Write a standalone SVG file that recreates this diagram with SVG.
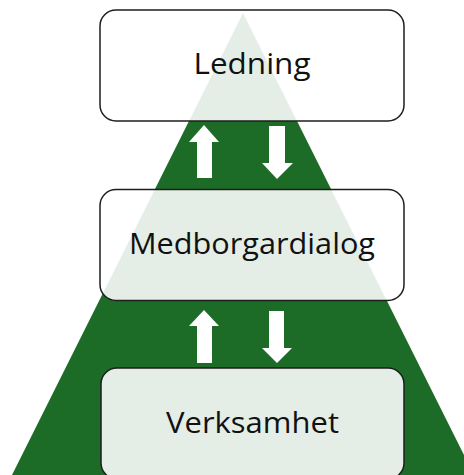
<svg xmlns="http://www.w3.org/2000/svg" width="464" height="475" viewBox="0 0 464 475">
<style>
.box{fill:#ffffff;fill-opacity:0.885;stroke:#1e1e1e;stroke-width:1.5}
.lbl{font-family:"Open Sans","Liberation Sans",sans-serif;font-size:29px;fill:#111111;text-anchor:middle}
.arr{fill:#ffffff}
</style>
<rect width="464" height="475" fill="#ffffff"/>
<polygon id="pyramid" points="243,13 474,475 12,475" fill="#1c6b27"/>
<g id="connectors">
<polygon class="arr" points="204,125 219,142 212,142 212,178 197,178 197,142 189,142"/>
<polygon class="arr" points="269,126 285,126 285,163 293,163 277,179 262,163 269,163"/>
<polygon class="arr" points="204,310 219,326 212,326 212,363 197,363 197,326 189,326"/>
<polygon class="arr" points="269,311 284,311 284,348 292,348 277,363 262,348 269,348"/>
</g>
<g id="node-ledning">
<rect class="box" x="100" y="10" width="304" height="111" rx="16"/>
<text class="lbl" x="252" y="74" textLength="117" lengthAdjust="spacingAndGlyphs">Ledning</text>
</g>
<g id="node-medborgardialog">
<rect class="box" x="100" y="189.5" width="304" height="111" rx="16"/>
<text class="lbl" x="252" y="254" textLength="246" lengthAdjust="spacingAndGlyphs">Medborgardialog</text>
</g>
<g id="node-verksamhet">
<rect class="box" x="101" y="368" width="303" height="111" rx="16"/>
<text class="lbl" x="252.5" y="433" textLength="173" lengthAdjust="spacingAndGlyphs">Verksamhet</text>
</g>
</svg>
